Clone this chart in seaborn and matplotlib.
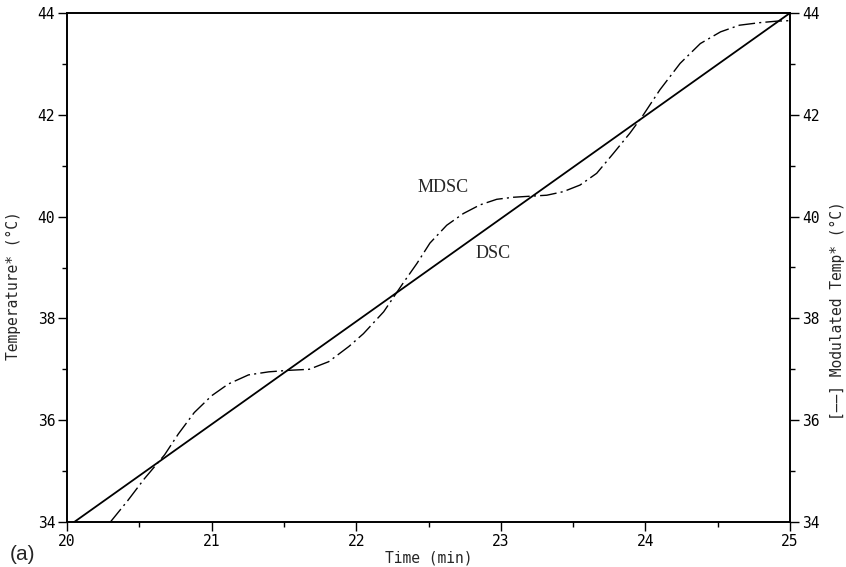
import matplotlib
matplotlib.use("Agg")
import matplotlib.pyplot as plt
import seaborn as sns
import pandas as pd

# ---- data ----
dsc_time = [20.05, 25.0]
dsc_temp = [34.0, 44.0]

mdsc_time = [20.30, 20.42, 20.535, 20.675, 20.77, 20.88, 21.0, 21.115, 21.255,
             21.395, 21.535, 21.675, 21.81, 21.95, 22.05, 22.19, 22.326, 22.42,
             22.51, 22.626, 22.741, 22.856, 22.972, 23.087, 23.20, 23.318,
             23.432, 23.548, 23.663, 23.778, 23.893, 23.986, 24.10, 24.24,
             24.38, 24.52, 24.65, 24.79, 24.91, 25.0]
mdsc_temp = [34.0, 34.42, 34.85, 35.32, 35.73, 36.15, 36.48, 36.71, 36.89,
             36.95, 36.98, 37.0, 37.15, 37.45, 37.70, 38.13, 38.70, 39.08,
             39.48, 39.83, 40.06, 40.23, 40.34, 40.38, 40.40, 40.42, 40.49,
             40.62, 40.85, 41.24, 41.64, 42.0, 42.49, 43.01, 43.40, 43.63,
             43.76, 43.81, 43.84, 43.85]

x_ticks = [20, 21, 22, 23, 24, 25]
y_ticks = [34, 36, 38, 40, 42, 44]

sns.set_style("ticks")
mono = "DejaVu Sans Mono"
plt.rcParams["font.family"] = ["DejaVu Sans Mono", "DejaVu Sans"]
FS = 10.5

fig = plt.figure(figsize=(8.46, 5.67), dpi=100)
ax = fig.add_axes([67 / 846, 45 / 567, 723 / 846, 509 / 567])

dsc = pd.DataFrame({"Time": dsc_time, "Temp": dsc_temp})
mdsc = pd.DataFrame({"Time": mdsc_time, "Temp": mdsc_temp})

sns.lineplot(data=dsc, x="Time", y="Temp", ax=ax, color="black", lw=1.3,
             estimator=None)
sns.lineplot(data=mdsc, x="Time", y="Temp", ax=ax, color="black", lw=1.0,
             estimator=None)
ax.lines[-1].set_linestyle((0, (12, 3, 1.5, 3)))

ax.set_xlim(20, 25)
ax.set_ylim(34, 44)
ax.set_xticks(x_ticks)
ax.set_yticks(y_ticks)
ax.set_xticks([20.5, 21.5, 22.5, 23.5, 24.5], minor=True)
ax.set_yticks([35, 37, 39, 41, 43], minor=True)
ax.set_xticklabels([str(t) for t in x_ticks], fontsize=FS, family=mono)
ax.set_yticklabels([str(t) for t in y_ticks], fontsize=FS, family=mono)
ax.tick_params(which="major", direction="out", length=6.5, width=1.0, pad=2,
               colors="black")
ax.tick_params(which="minor", direction="out", length=3.5, width=1.0,
               colors="black")
ax.set_xlabel("")
ax.set_ylabel("")
for s in ax.spines.values():
    s.set_visible(True)
    s.set_linewidth(1.2)
    s.set_color("black")

ax2 = ax.twinx()
ax2.set_ylim(34, 44)
ax2.set_yticks(y_ticks)
ax2.set_yticks([35, 37, 39, 41, 43], minor=True)
ax2.set_yticklabels([str(t) for t in y_ticks], fontsize=FS, family=mono)
ax2.tick_params(which="major", direction="out", length=6.5, width=1.0, pad=2,
                colors="black")
ax2.tick_params(which="minor", direction="out", length=3.5, width=1.0,
                colors="black")
for s in ax2.spines.values():
    s.set_linewidth(1.2)
    s.set_color("black")

# axis titles
ax.text(0.5, -0.07, "Time (min)", transform=ax.transAxes, ha="center",
        va="center", fontsize=FS, family=mono)
ax.text(-0.074, 0.465, "Temperature* (°C)", transform=ax.transAxes,
        rotation=90, ha="center", va="center", fontsize=FS, family=mono)
ax.text(1.066, 0.415, "[——] Modulated Temp* (°C)", transform=ax.transAxes,
        rotation=90, ha="center", va="center", fontsize=FS, family=mono)

# curve annotations
ax.text(22.60, 40.58, "MDSC", ha="center", va="center", fontsize=13,
        family="Liberation Serif")
ax.text(22.95, 39.28, "DSC", ha="center", va="center", fontsize=13,
        family="Liberation Serif")

fig.text(22 / 846, 1 - 555 / 567, "(a)", ha="center", va="center",
         fontsize=15, family="Liberation Sans")

fig.savefig("out.png", dpi=100, facecolor="white")
